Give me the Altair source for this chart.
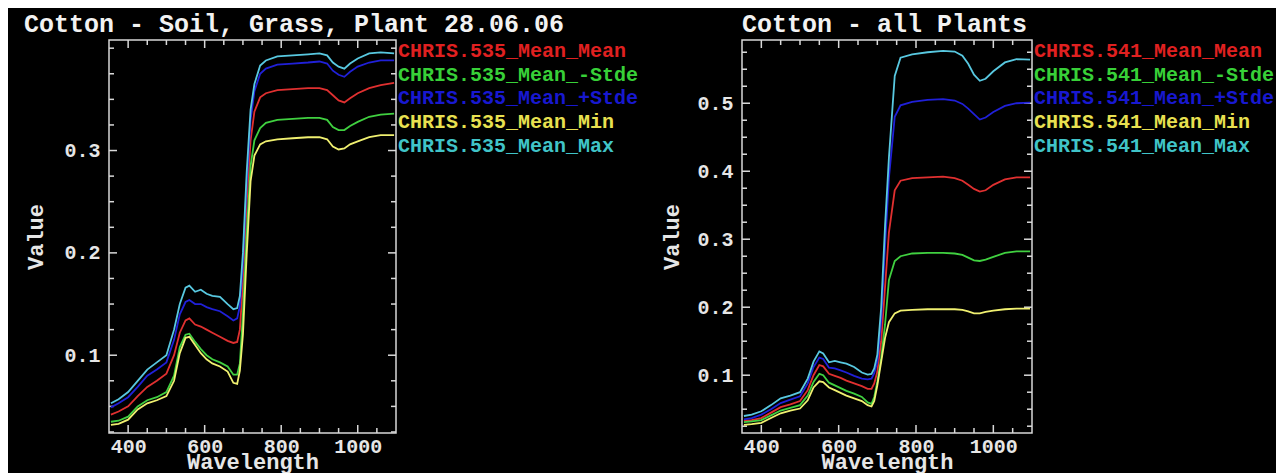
import altair as alt
import pandas as pd

# ---------------- data ----------------
WL = [355, 375, 400, 425, 450, 475, 500, 520, 535, 550, 560, 575, 590, 605, 620,
      640, 660, 675, 685, 692, 700, 710, 720, 730, 745, 760, 790, 830, 870, 900,
      920, 935, 950, 965, 980, 1000, 1030, 1060, 1095]

# Left panel: Cotton - Soil, Grass, Plant
L_NAMES = ["CHRIS.535_Mean_Mean", "CHRIS.535_Mean_-Stde", "CHRIS.535_Mean_+Stde",
           "CHRIS.535_Mean_Min", "CHRIS.535_Mean_Max"]
L_MEAN = [0.042, 0.045, 0.050, 0.060, 0.069, 0.075, 0.082, 0.100, 0.122, 0.134, 0.136, 0.130, 0.128, 0.125, 0.122,
          0.118, 0.114, 0.112, 0.113, 0.125, 0.170, 0.250, 0.310, 0.338, 0.352, 0.356, 0.359, 0.360, 0.361, 0.361,
          0.359, 0.354, 0.349, 0.347, 0.351, 0.356, 0.361, 0.364, 0.366]
L_MSTD = [0.035, 0.036, 0.040, 0.050, 0.056, 0.059, 0.064, 0.080, 0.108, 0.120, 0.121, 0.113, 0.106, 0.100, 0.096,
          0.093, 0.089, 0.081, 0.081, 0.092, 0.140, 0.220, 0.285, 0.310, 0.322, 0.327, 0.330, 0.331, 0.332, 0.332,
          0.330, 0.323, 0.320, 0.320, 0.324, 0.328, 0.333, 0.335, 0.336]
L_PSTD = [0.049, 0.053, 0.059, 0.069, 0.080, 0.086, 0.093, 0.115, 0.140, 0.152, 0.154, 0.150, 0.150, 0.147, 0.145,
          0.143, 0.138, 0.134, 0.136, 0.148, 0.190, 0.270, 0.330, 0.358, 0.375, 0.380, 0.384, 0.385, 0.386, 0.387,
          0.385, 0.378, 0.374, 0.372, 0.377, 0.382, 0.386, 0.388, 0.388]
L_MIN = [0.032, 0.033, 0.037, 0.047, 0.053, 0.056, 0.060, 0.075, 0.102, 0.117, 0.118, 0.110, 0.102, 0.096, 0.092,
         0.089, 0.084, 0.073, 0.072, 0.085, 0.120, 0.200, 0.270, 0.295, 0.306, 0.309, 0.311, 0.312, 0.313, 0.313,
         0.311, 0.304, 0.301, 0.302, 0.306, 0.309, 0.313, 0.315, 0.315]
L_MAX = [0.053, 0.057, 0.064, 0.075, 0.086, 0.093, 0.100, 0.125, 0.150, 0.166, 0.168, 0.162, 0.164, 0.160, 0.158,
         0.157, 0.150, 0.145, 0.146, 0.158, 0.200, 0.280, 0.340, 0.365, 0.383, 0.388, 0.392, 0.393, 0.394, 0.395,
         0.393, 0.386, 0.382, 0.380, 0.385, 0.390, 0.395, 0.396, 0.395]

# Right panel: Cotton - all Plants
R_NAMES = ["CHRIS.541_Mean_Mean", "CHRIS.541_Mean_-Stde", "CHRIS.541_Mean_+Stde",
           "CHRIS.541_Mean_Min", "CHRIS.541_Mean_Max"]
R_MEAN = [0.033, 0.034, 0.037, 0.045, 0.053, 0.057, 0.062, 0.078, 0.100, 0.115, 0.113, 0.102, 0.099, 0.096, 0.092,
          0.088, 0.084, 0.080, 0.080, 0.088, 0.105, 0.150, 0.230, 0.310, 0.372, 0.386, 0.390, 0.391, 0.392, 0.390,
          0.386, 0.380, 0.374, 0.370, 0.372, 0.380, 0.388, 0.391, 0.391]
R_MSTD = [0.031, 0.032, 0.034, 0.041, 0.048, 0.052, 0.056, 0.070, 0.090, 0.102, 0.100, 0.089, 0.085, 0.081, 0.077,
          0.073, 0.068, 0.060, 0.058, 0.068, 0.090, 0.125, 0.175, 0.240, 0.268, 0.275, 0.279, 0.280, 0.280, 0.279,
          0.277, 0.273, 0.269, 0.268, 0.270, 0.274, 0.280, 0.282, 0.282]
R_PSTD = [0.035, 0.037, 0.042, 0.050, 0.059, 0.064, 0.069, 0.088, 0.112, 0.126, 0.124, 0.111, 0.110, 0.107, 0.104,
          0.099, 0.095, 0.094, 0.095, 0.103, 0.120, 0.180, 0.290, 0.390, 0.480, 0.497, 0.502, 0.505, 0.506, 0.504,
          0.499, 0.492, 0.484, 0.476, 0.479, 0.487, 0.496, 0.500, 0.501]
R_MIN = [0.027, 0.028, 0.030, 0.037, 0.044, 0.048, 0.051, 0.063, 0.082, 0.091, 0.090, 0.082, 0.078, 0.074, 0.070,
         0.066, 0.062, 0.056, 0.054, 0.062, 0.085, 0.120, 0.155, 0.178, 0.191, 0.195, 0.196, 0.197, 0.197, 0.197,
         0.196, 0.194, 0.191, 0.191, 0.193, 0.195, 0.197, 0.198, 0.198]
R_MAX = [0.040, 0.042, 0.047, 0.056, 0.066, 0.070, 0.075, 0.095, 0.120, 0.135, 0.132, 0.119, 0.121, 0.119, 0.117,
         0.112, 0.104, 0.101, 0.102, 0.110, 0.130, 0.200, 0.320, 0.420, 0.540, 0.567, 0.572, 0.575, 0.577, 0.576,
         0.570, 0.558, 0.542, 0.533, 0.536, 0.547, 0.560, 0.565, 0.564]

LINE_COLORS = ["#e03030", "#40d040", "#2020d8", "#f0f070", "#58c8e0"]
TEXT_COLORS = ["#e02020", "#38d038", "#1818d0", "#e8e050", "#40c4c8"]

X_MAJOR = [400, 600, 800, 1000]
X_MINOR = [450, 500, 550, 650, 700, 750, 850, 900, 950, 1050]
L_Y_MAJOR = [0.1, 0.2, 0.3]
L_Y_MINOR = [0.025, 0.05, 0.075, 0.125, 0.15, 0.175, 0.225, 0.25, 0.275, 0.325, 0.35, 0.375, 0.4]
R_Y_MAJOR = [0.1, 0.2, 0.3, 0.4, 0.5]
R_Y_MINOR = [0.025, 0.05, 0.075, 0.125, 0.15, 0.175, 0.225, 0.25, 0.275, 0.325, 0.35, 0.375,
             0.425, 0.45, 0.475, 0.525, 0.55, 0.575]

FONT = "Liberation Mono"
FG = "#e6e6e6"
H = 393


def panel(title, frame, names, series, ydom, ymaj, ymin, title_x, W):
    rows = []
    for name, vals in zip(names, series):
        assert len(vals) == len(WL)
        for w, v in zip(WL, vals):
            rows.append({"wl": w, "v": v, "s": name})
    df = pd.DataFrame(rows)

    xenc = alt.X("wl:Q", scale=alt.Scale(domain=[350, 1100], nice=False, zero=False),
                 axis=alt.Axis(values=X_MAJOR, format="d", title="Wavelength",
                               labelPadding=3, titleBaseline="top", titleY=18))
    yenc = alt.Y("v:Q", scale=alt.Scale(domain=ydom, nice=False, zero=False),
                 axis=alt.Axis(values=ymaj, format=".1f", title="Value",
                               labelPadding=9, titleAngle=270, titleX=title_x,
                               titleBaseline="middle"))

    expr = " : ".join(f"datum.label === '{n}' ? '{c}'" for n, c in zip(names, TEXT_COLORS)) + " : 'white'"

    lines = alt.Chart(df).mark_line(strokeWidth=1.8).encode(
        x=xenc, y=yenc,
        color=alt.Color("s:N", scale=alt.Scale(domain=names, range=LINE_COLORS),
                        legend=alt.Legend(title=None, orient="none", legendX=W - 18, legendY=1,
                                          labelFont=FONT, labelFontSize=20, labelFontWeight="bold",
                                          labelColor=alt.ExprRef(expr), symbolSize=0,
                                          symbolStrokeWidth=0, symbolOpacity=0, labelOffset=0,
                                          rowPadding=3.7, labelLimit=400, padding=0)),
    )

    xmaj = alt.Chart(pd.DataFrame({"wl": X_MAJOR}))
    xmin = alt.Chart(pd.DataFrame({"wl": X_MINOR}))
    ymj = alt.Chart(pd.DataFrame({"v": ymaj}))
    ymn = alt.Chart(pd.DataFrame({"v": ymin}))
    rule = dict(color="#d8d8d8", strokeWidth=1.5)
    ticks = [
        xmaj.mark_rule(**rule).encode(x=xenc, y=alt.value(H), y2=alt.value(H - 8)),
        xmaj.mark_rule(**rule).encode(x=xenc, y=alt.value(0), y2=alt.value(8)),
        xmin.mark_rule(**rule).encode(x=xenc, y=alt.value(H), y2=alt.value(H - 5)),
        xmin.mark_rule(**rule).encode(x=xenc, y=alt.value(0), y2=alt.value(5)),
        ymj.mark_rule(**rule).encode(y=yenc, x=alt.value(0), x2=alt.value(8)),
        ymj.mark_rule(**rule).encode(y=yenc, x=alt.value(W), x2=alt.value(W - 8)),
        ymn.mark_rule(**rule).encode(y=yenc, x=alt.value(0), x2=alt.value(5)),
        ymn.mark_rule(**rule).encode(y=yenc, x=alt.value(W), x2=alt.value(W - 5)),
    ]
    return alt.layer(*ticks, lines).properties(
        width=W, height=H,
        title=alt.TitleParams(title, anchor="start", frame=frame, font=FONT, fontSize=25,
                              fontWeight="bold", color="#f2f2f2", offset=2),
    )


left = panel("Cotton - Soil, Grass, Plant 28.06.06", "bounds", L_NAMES,
             [L_MEAN, L_MSTD, L_PSTD, L_MIN, L_MAX], [0.024, 0.408], L_Y_MAJOR, L_Y_MINOR, -74, 287)
right = panel("Cotton - all Plants", "group", R_NAMES,
              [R_MEAN, R_MSTD, R_PSTD, R_MIN, R_MAX], [0.015, 0.593], R_Y_MAJOR, R_Y_MINOR, -71, 290)

chart = alt.hconcat(left, right, spacing=19).resolve_scale(
    x="independent", y="independent", color="independent"
).properties(
    background="black",
    padding={"left": 15, "top": 3, "right": 0, "bottom": 0},
).configure_view(
    stroke="#d8d8d8", strokeWidth=1.5, fill="black"
).configure_axis(
    grid=False, domain=False, ticks=False,
    labelFont=FONT, labelFontSize=20, labelFontWeight="bold", labelColor=FG,
    titleFont=FONT, titleFontSize=22, titleFontWeight="bold", titleColor=FG,
)

chart.save("out.html", embed_options={"renderer": "svg", "actions": False})
